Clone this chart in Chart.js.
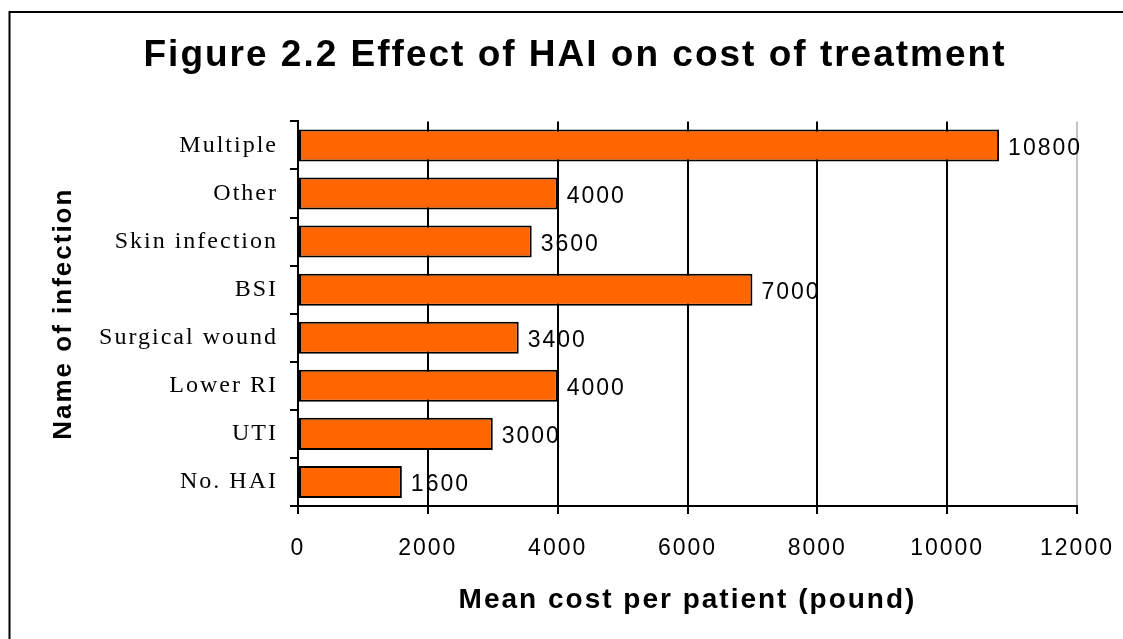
<!DOCTYPE html>
<html>
<head>
<meta charset="utf-8">
<title>Figure 2.2 Effect of HAI on cost of treatment</title>
<script src="https://cdn.jsdelivr.net/npm/chart.js@4/dist/chart.umd.min.js"></script>
<style>
  html, body { margin: 0; padding: 0; background: #fff; }
  #wrap { width: 1123px; height: 639px; }
</style>
</head>
<body>
<div id="wrap"><canvas id="cost-chart" width="1123" height="639"></canvas></div>
<script>
// values
const infections = ['Multiple', 'Other', 'Skin infection', 'BSI', 'Surgical wound', 'Lower RI', 'UTI', 'No. HAI'];
const meanCost = [10800, 4000, 3600, 7000, 3400, 4000, 3000, 1600];
const costTicks = [0, 2000, 4000, 6000, 8000, 10000, 12000];

const chartTitle = 'Figure 2.2 Effect of HAI on cost of treatment';
const xTitle = 'Mean cost per patient (pound)';
const yTitle = 'Name of infection';

const sans = "'Liberation Sans', Arial, sans-serif";
const serif = "'Liberation Serif', 'Times New Roman', serif";

// the original text is a bit wide, so space the letters out
function spaceLetters(chart) {
  chart.ctx.letterSpacing = '2px';
}

const framePlugin = {
  id: 'frame',
  beforeUpdate: spaceLetters,
  beforeLayout: spaceLetters,
  beforeDraw(chart) {
    spaceLetters(chart);
    const ctx = chart.ctx;
    ctx.save();
    ctx.strokeStyle = '#000';
    ctx.lineWidth = 2;
    ctx.beginPath();
    ctx.moveTo(9.5, chart.height + 5);
    ctx.lineTo(9.5, 12);
    ctx.lineTo(chart.width + 5, 12);
    ctx.stroke();
    ctx.restore();
  }
};

const valueLabels = {
  id: 'valueLabels',
  afterDatasetsDraw(chart) {
    const ctx = chart.ctx;
    const meta = chart.getDatasetMeta(0);
    ctx.save();
    ctx.font = '23px ' + sans;
    ctx.fillStyle = '#000';
    ctx.textAlign = 'left';
    ctx.textBaseline = 'middle';
    meta.data.forEach((bar, i) => {
      ctx.fillText(String(meanCost[i]), bar.x + 9, bar.y + 3);
    });
    ctx.restore();
  }
};

new Chart(document.getElementById('cost-chart'), {
  type: 'bar',
  data: {
    labels: infections,
    datasets: [{
      data: meanCost,
      backgroundColor: '#ff6600',
      borderColor: '#000',
      borderWidth: 2,
      borderSkipped: false,
      categoryPercentage: 1,
      barPercentage: 0.667
    }]
  },
  options: {
    indexAxis: 'y',
    responsive: false,
    animation: false,
    layout: { padding: { left: 27, right: 0, top: 0, bottom: 0 } },
    plugins: {
      legend: { display: false },
      tooltip: { enabled: false },
      title: {
        display: true,
        text: chartTitle,
        color: '#000',
        font: { family: sans, size: 37, weight: 'bold' },
        padding: { top: 34, bottom: 43 }
      }
    },
    scales: {
      x: {
        min: 0,
        max: 12000,
        afterBuildTicks: axis => { axis.ticks = costTicks.map(v => ({ value: v })); },
        afterFit: axis => {
          axis.height = 133;
          axis.paddingLeft = 0;
          axis.paddingRight = 46;
        },
        grid: {
          color: c => (c.tick && c.tick.value === 12000 ? '#c4c4c4' : '#000'),
          tickColor: '#000',
          lineWidth: 2,
          tickLength: 8
        },
        border: { color: '#000', width: 2 },
        ticks: {
          color: '#000',
          padding: 21,
          maxRotation: 0,
          callback: v => String(v),
          font: { family: sans, size: 23 }
        },
        title: {
          display: true,
          text: xTitle,
          color: '#000',
          font: { family: sans, size: 28, weight: 'bold' },
          padding: { top: 0, bottom: 22 }
        }
      },
      y: {
        afterFit: axis => { axis.width = 271; },
        grid: {
          display: true,
          drawOnChartArea: false,
          offset: true,
          color: '#000',
          lineWidth: 2,
          tickLength: 8
        },
        border: { color: '#000', width: 2 },
        ticks: {
          color: '#000',
          padding: 12,
          font: { family: serif, size: 24 }
        },
        title: {
          display: true,
          text: yTitle,
          color: '#000',
          font: { family: sans, size: 26, weight: 'bold' },
          padding: { top: 21, bottom: 0 }
        }
      }
    }
  },
  plugins: [framePlugin, valueLabels]
});
</script>
</body>
</html>
